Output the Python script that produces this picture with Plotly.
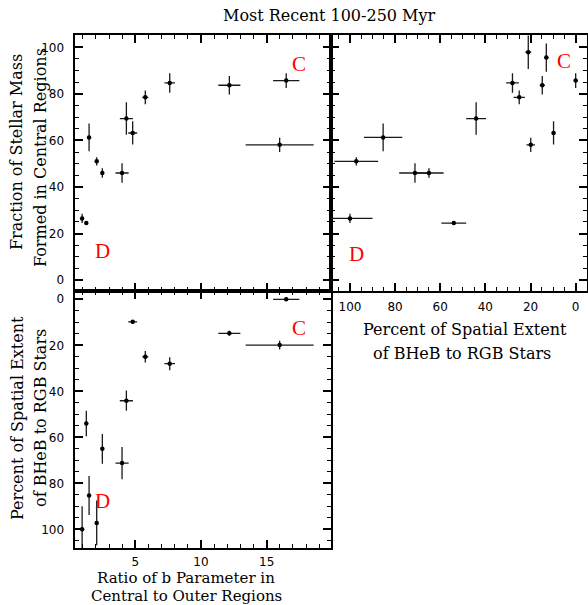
import plotly.graph_objects as go

# Galaxies with a measured b-parameter ratio
b_ratio = [0.95, 1.27, 1.48, 2.06, 2.49, 3.99, 4.32, 4.80, 5.76, 7.62, 12.16, 16.49, 15.99]
b_ratio_err = [0, 0, 0, 0, 0, 0.5, 0.5, 0.34, 0.23, 0.4, 0.84, 1.0, 2.59]
frac_central = [26.5, 24.5, 61.3, 51.0, 46.0, 46.0, 69.4, 63.2, 78.5, 84.7, 83.7, 85.7, 58.1]
frac_central_err = [2.0, 0.8, 6.0, 1.8, 2.0, 4.2, 7.0, 5.0, 3.0, 4.2, 4.0, 3.2, 3.1]
extent_pct = [100.0, 54.0, 85.3, 97.2, 65.0, 71.2, 44.1, 9.8, 25.0, 28.0, 14.8, 0.0, 19.9]
extent_pct_err = [10.0, 5.5, 8.5, 9.7, 6.5, 7.0, 4.4, 0.8, 2.5, 2.8, 1.1, 0.8, 1.9]

# Galaxies with spatial-extent measurements only
extent_only = [21.0, 13.0]
extent_only_err = [1.3, 1.0]
frac_only = [97.9, 95.6]
frac_only_err = [7.2, 6.1]

W, H = 588, 605


def fx(p):
    return p / W


def fy(p):
    return 1 - p / H


ERR_COLOR = "#1a1a1a"
MARK = dict(color="black", size=4.5, symbol="circle")


def err(arr):
    return dict(type="data", array=arr, symmetric=True, width=0,
                thickness=1.3, color=ERR_COLOR)


fig = go.Figure()

# Top-left: fraction vs b ratio
fig.add_trace(go.Scatter(x=b_ratio, y=frac_central, mode="markers", marker=MARK,
                         error_x=err(b_ratio_err), error_y=err(frac_central_err),
                         xaxis="x", yaxis="y", showlegend=False))
# Bottom-left: extent vs b ratio
fig.add_trace(go.Scatter(x=b_ratio, y=extent_pct, mode="markers", marker=MARK,
                         error_x=err(b_ratio_err), error_y=err(extent_pct_err),
                         xaxis="x2", yaxis="y2", showlegend=False))
# Top-right: fraction vs extent
fig.add_trace(go.Scatter(x=extent_pct + extent_only, y=frac_central + frac_only,
                         mode="markers", marker=MARK,
                         error_x=err(extent_pct_err + extent_only_err),
                         error_y=err(frac_central_err + frac_only_err),
                         xaxis="x3", yaxis="y3", showlegend=False))

TICKFONT = dict(family="DejaVu Sans", size=12, color="black")


def axis(major, minor, **kw):
    base = dict(showline=True, linecolor="black", linewidth=2, mirror="ticks",
                ticks="inside", ticklen=8, tickwidth=1.6, tickcolor="black",
                tickmode="linear", tick0=0, dtick=major,
                showgrid=False, zeroline=False, tickfont=TICKFONT,
                minor=dict(ticks="inside", ticklen=4, tickwidth=1.3,
                           tickcolor="black", tickmode="linear", tick0=0,
                           dtick=minor, showgrid=False))
    base.update(kw)
    return base


left_dom = [fx(74.5), fx(331)]
right_dom = [fx(331), fx(586.5)]
top_dom = [fy(291), fy(35)]
bot_dom = [fy(548), fy(291)]

fig.update_layout(
    width=W, height=H, margin=dict(l=0, r=0, t=0, b=0),
    paper_bgcolor="white", plot_bgcolor="white",
    xaxis=axis(5, 1, domain=left_dom, anchor="y", range=[0.37, 19.9],
               showticklabels=False),
    yaxis=axis(20, 5, domain=top_dom, anchor="x", range=[-4.7, 105.3],
               ticklabelstandoff=6),
    xaxis2=axis(5, 1, domain=left_dom, anchor="y2", range=[0.37, 19.9],
                ticklabelstandoff=2),
    yaxis2=axis(20, 5, domain=bot_dom, anchor="x2", range=[108.1, -3.6],
                ticklabelstandoff=6),
    xaxis3=axis(20, 5, domain=right_dom, anchor="y3", range=[108.4, -4.8],
                ticklabelstandoff=4),
    yaxis3=axis(20, 5, domain=top_dom, anchor="x3", range=[-4.7, 105.3],
                showticklabels=False),
)

TXT = dict(family="DejaVu Serif", size=16, color="black")
TXT_LOW = dict(family="DejaVu Serif", size=15, color="black")
RED = dict(family="Liberation Serif", size=21, color="red")

annotations = [
    dict(text="Most Recent 100-250 Myr", x=fx(329), y=fy(15), font=TXT),
    dict(text="Fraction of Stellar Mass", x=fx(17), y=fy(152), textangle=-90, font=TXT),
    dict(text="Formed in Central Regions", x=fx(40), y=fy(158), textangle=-90, font=TXT),
    dict(text="Percent of Spatial Extent", x=fx(17), y=fy(418), textangle=-90, font=TXT),
    dict(text="of BHeB to RGB Stars", x=fx(40), y=fy(418), textangle=-90, font=TXT),
    dict(text="Ratio of b Parameter in", x=fx(186), y=fy(578), font=TXT_LOW),
    dict(text="Central to Outer Regions", x=fx(186), y=fy(596), font=TXT_LOW),
    dict(text="Percent of Spatial Extent", x=fx(465), y=fy(329), font=TXT),
    dict(text="of BHeB to RGB Stars", x=fx(462), y=fy(353), font=TXT),
]
for a in annotations:
    a.update(xref="paper", yref="paper", showarrow=False,
             xanchor="center", yanchor="middle")

# Corner markers for the two regimes
labels = [
    dict(text="D", x=2.49, y=12.6, xref="x", yref="y"),
    dict(text="C", x=17.48, y=92.7, xref="x", yref="y"),
    dict(text="D", x=2.49, y=87.8, xref="x2", yref="y2"),
    dict(text="C", x=17.48, y=12.4, xref="x2", yref="y2"),
    dict(text="D", x=97.3, y=11.2, xref="x3", yref="y3"),
    dict(text="C", x=5.1, y=94.2, xref="x3", yref="y3"),
]
for a in labels:
    a.update(showarrow=False, font=RED, xanchor="center", yanchor="middle")

fig.update_layout(annotations=annotations + labels)

fig.write_html("out.html")
